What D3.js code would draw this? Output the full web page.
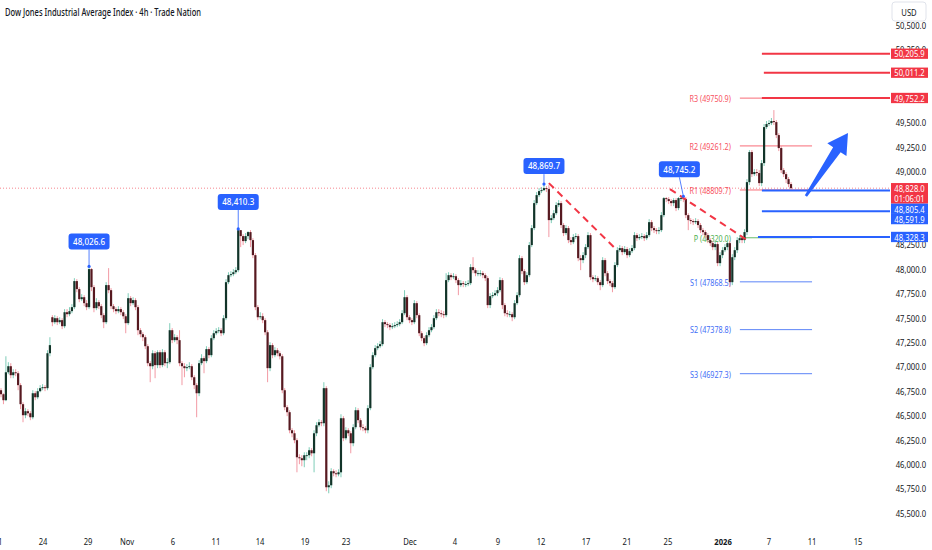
<!DOCTYPE html>
<html><head><meta charset="utf-8">
<script src="https://cdn.jsdelivr.net/npm/d3@7"></script>
<style>html,body{margin:0;padding:0;background:#fff;overflow:hidden}</style>
</head><body><svg id="c" width="932" height="550"></svg>
<script>
const title = "Dow Jones Industrial Average Index · 4h · Trade Nation";
const currency = "USD";
// 4h candles [open, high, low, close]
const candles = [
[46758,46779,46686,46717],[46717,46727,46615,46656],[46656,47106,46646,46942],[46942,47045,46922,47004],[47004,47035,46881,46912],
[46912,46973,46881,46942],[46942,46973,46901,46932],[46932,46953,46758,46810],[46810,46830,46564,46615],[46615,46635,46430,46502],
[46502,46574,46471,46543],[46543,46564,46492,46522],[46522,46543,46451,46481],[46481,46758,46461,46727],[46727,46748,46656,46686],
[46686,46779,46666,46748],[46748,46810,46737,46779],[46779,46820,46758,46789],[46789,46810,46748,46779],[46779,47168,46758,47137],
[47137,47301,47106,47220],[47506,47527,47414,47455],[47455,47527,47435,47496],[47496,47516,47425,47455],[47455,47506,47435,47476],
[47476,47496,47384,47414],[47414,47589,47394,47557],[47557,47589,47506,47537],[47537,47609,47516,47568],[47568,47640,47547,47609],
[47609,47906,47589,47876],[47876,47896,47762,47794],[47794,47814,47660,47691],[47691,47742,47671,47711],[47711,47732,47619,47650],
[47650,47681,47578,47609],[47609,48026.6,47589,47999],[47999,48009,47773,47814],[47814,47835,47557,47599],[47599,47701,47578,47660],
[47660,47681,47589,47619],[47619,47640,47496,47527],[47527,47547,47394,47455],[47455,47865,47435,47835],[47835,48009,47752,47783],
[47783,47804,47589,47619],[47619,47640,47557,47589],[47589,47609,47537,47568],[47568,47619,47547,47589],[47589,47609,47527,47557],
[47557,47578,47486,47516],[47516,47537,47342,47445],[47445,47752,47425,47701],[47701,47722,47619,47650],[47650,47711,47630,47681],
[47681,47701,47578,47609],[47609,47630,47322,47373],[47373,47394,47301,47332],[47332,47352,47261,47301],[47301,47322,47179,47209],
[47209,47230,47004,47035],[47035,47056,46840,47004],[47004,47168,46973,47137],[47137,47158,46881,47015],[47015,47168,46984,47147],
[47147,47168,46984,47015],[47015,47179,46994,47147],[47147,47168,47004,47035],[47035,47086,46984,47045],[47045,47445,47025,47373],
[47373,47394,47240,47271],[47271,47332,47250,47301],[47301,47322,47230,47271],[47271,47373,47004,47035],[47035,47056,46810,47004],
[47004,47035,46891,46984],[46984,47025,46953,46994],[46994,47045,46973,47004],[47004,47025,46861,46891],[46891,46912,46769,46810],
[46810,46830,46481,46727],[46727,47066,46697,47035],[47035,47127,47015,47086],[47086,47106,46932,47056],[47056,47209,47035,47179],
[47179,47199,47086,47117],[47117,47322,47096,47291],[47291,47373,47271,47342],[47342,47394,47322,47363],[47363,47404,47342,47373],
[47373,47394,47312,47342],[47342,47527,47322,47496],[47496,47896,47476,47865],[47865,47967,47845,47937],[47937,47978,47916,47947],
[47947,47999,47926,47967],[47967,48019,47947,47988],[47988,48410.3,47967,48398],[48398,48398,48224,48337],[48337,48357,48245,48286],
[48286,48368,48265,48337],[48337,48388,48306,48378],[48378,48398,48224,48296],[48296,48316,48111,48142],[48142,48163,47578,47609],
[47609,47630,47476,47506],[47506,47557,47486,47516],[47516,47547,47445,47476],[47476,47496,47322,47352],[47352,47373,46840,46984],
[46984,47250,46953,47220],[47220,47240,47086,47117],[47117,47199,47096,47168],[47168,47189,47106,47137],[47137,47158,47074,47106],
[47106,47127,46727,46758],[46758,46779,46553,46584],[46584,46605,46492,46533],[46533,46553,46317,46348],[46348,46369,46276,46317],
[46317,46348,46215,46246],[46246,46266,45917,46071],[46071,46102,46000,46061],[46061,46092,45979,46041],[46041,46122,45969,46092],
[46092,46122,46041,46092],[46092,46174,46061,46143],[46143,46164,46081,46112],[46112,46348,45917,46317],[46317,46430,46287,46399],
[46399,46461,46379,46430],[46430,46451,46389,46420],[46420,46840,46389,46779],[46779,46799,45723,45764],[45764,45825,45702,45784],
[45784,45959,45754,45928],[45928,45948,45876,45907],[45907,45938,45866,45897],[45897,45948,45876,45917],[45917,46512,45866,46471],
[46471,46492,46236,46266],[46266,46379,46246,46348],[46348,46369,46287,46317],[46317,46338,46112,46215],[46215,46410,46184,46379],
[46379,46584,46358,46553],[46553,46574,46420,46451],[46451,46471,46348,46379],[46379,46410,46338,46369],[46369,46389,46317,46348],
[46348,46605,46317,46574],[46574,47025,46553,46994],[46994,47147,46973,47117],[47117,47220,47096,47189],[47189,47240,47168,47209],
[47209,47261,47189,47230],[47230,47486,47209,47455],[47455,47476,47404,47435],[47435,47455,47394,47425],[47425,47445,47373,47404],
[47404,47445,47384,47414],[47414,47455,47394,47425],[47425,47465,47404,47435],[47435,47486,47414,47455],[47455,47578,47435,47547],
[47547,47783,47527,47711],[47711,47732,47476,47506],[47506,47527,47445,47476],[47476,47496,47425,47455],[47455,47681,47435,47650],
[47650,47671,47496,47527],[47527,47547,47312,47342],[47342,47363,47261,47291],[47291,47312,47209,47240],[47240,47352,47220,47322],
[47322,47404,47301,47373],[47373,47435,47352,47404],[47404,47527,47384,47496],[47496,47589,47476,47557],[47557,47589,47516,47547],
[47547,47578,47506,47537],[47537,47568,47496,47527],[47527,47957,47506,47886],[47886,47967,47865,47937],[47937,47957,47886,47916],
[47916,47957,47896,47926],[47926,47947,47855,47886],[47886,47906,47732,47835],[47835,47886,47814,47855],[47855,47876,47814,47845],
[47845,47876,47814,47845],[47845,47886,47824,47855],[47855,48050,47835,48019],[48019,48121,47957,47988],[47988,48009,47926,47957],
[47957,47988,47926,47957],[47957,47988,47926,47957],[47957,47978,47906,47937],[47937,47957,47876,47906],[47906,47926,47599,47630],
[47630,47752,47599,47722],[47722,47762,47701,47732],[47732,47783,47722,47752],[47752,47814,47722,47783],[47783,47916,47762,47886],
[47886,47906,47589,47630],[47630,47650,47516,47547],[47547,47578,47506,47537],[47537,47568,47506,47537],[47537,47557,47465,47506],
[47506,47681,47486,47650],[47650,47762,47630,47732],[47732,48142,47711,48111],[48111,48132,47947,47978],[47978,47999,47835,47865],
[47865,47967,47845,47937],[47937,48276,47916,48245],[48245,48450,48224,48419],[48419,48706,48398,48675],[48675,48788,48655,48757],
[48757,48829,48737,48798],[48798,48839,48778,48808],[48808,48869.7,48798,48829],[48829,48849,48788,48819],[48819,48860,48327,48501],
[48501,48552,48470,48521],[48521,48603,48501,48572],[48572,48685,48552,48655],[48655,48706,48634,48675],[48675,48696,48419,48450],
[48450,48470,48337,48368],[48368,48450,48347,48419],[48419,48440,48265,48296],[48296,48327,48245,48275],[48275,48357,48255,48327],
[48327,48368,48306,48337],[48337,48357,48080,48111],[48111,48142,47988,48091],[48091,48173,48060,48142],[48142,48255,48111,48224],
[48224,48378,48204,48347],[48347,48368,47886,47916],[47916,47937,47865,47896],[47896,47937,47876,47906],[47906,47926,47835,47865],
[47865,47886,47783,47835],[47835,48121,47814,48091],[48091,48111,47926,47957],[47957,47978,47845,47876],[47876,47896,47824,47855],
[47855,47876,47762,47814],[47814,48070,47794,48040],[48040,48224,48019,48193],[48193,48245,48173,48214],[48214,48235,48142,48173],
[48173,48235,48152,48204],[48204,48224,48111,48142],[48142,48214,48121,48183],[48183,48245,48163,48214],[48214,48378,48193,48347],
[48347,48368,48286,48316],[48316,48357,48296,48327],[48327,48368,48306,48337],[48337,48357,48286,48316],[48316,48378,48296,48347],
[48347,48511,48327,48480],[48480,48501,48388,48419],[48419,48440,48368,48398],[48398,48419,48357,48388],[48388,48429,48357,48398],
[48398,48583,48378,48552],[48552,48737,48531,48726],[48726,48737,48685,48716],[48716,48737,48665,48696],[48696,48716,48644,48675],
[48675,48726,48644,48706],[48706,48726,48593,48624],[48624,48737,48603,48726],[48726,48737,48696,48726],[48726,48745.2,48685,48716],
[48716,48737,48521,48552],[48552,48572,48398,48501],[48501,48521,48460,48491],[48491,48511,48450,48480],[48480,48521,48460,48491],
[48491,48511,48419,48450],[48450,48470,48368,48398],[48398,48419,48347,48378],[48378,48398,48316,48347],[48347,48368,48265,48296],
[48296,48316,48235,48265],[48265,48286,48193,48224],[48224,48286,48193,48255],[48255,48275,48029,48060],[48060,48173,48029,48142],
[48142,48224,48111,48193],[48193,48255,48173,48224],[48224,48296,48193,48265],[48265,48286,47814,47865],[47865,48152,47835,48121],
[48121,48224,48091,48193],[48193,48327,48163,48296],[48296,48347,48265,48316],[48316,48337,48265,48296],[48296,48408,48265,48378],
[48378,48921,48347,48890],[48890,49218,48860,49198],[49198,49218,48942,48972],[48972,49024,48952,48993],[48993,49024,48952,48983],
[48983,49013,48849,48880],[48880,49116,48849,49085],[49085,49485,49055,49454],[49454,49516,49434,49485],[49485,49526,49464,49495],
[49495,49547,49475,49516],[49516,49628,49475,49505],[49505,49526,49341,49372],[49372,49392,49208,49239],[49239,49260,48983,49013],
[49013,49034,48942,48972],[48972,48993,48880,48921],[48921,48942,48839,48870],[48870,48890,48808,48828]
];
const lastPrice = 48828.0;
const countdown = "01:06:01";
const yTickValues = [45500,45750,46000,46250,46500,46750,47000,47250,47500,47750,48000,48250,48500,48750,49000,49250,49500,49750,50000,50250,50500];
const xTickLabels = ["21","24","29","Nov","6","11","14","19","23","Dec","4","9","12","17","21","25","2026","7","11","15"];
const xTickBars  = [-1.2,17.2,35.6,51.5,70.3,87.9,105.9,124.3,141.1,167.2,185.6,203.2,220.8,239.2,255.9,272.7,295.2,314.0,331.6,350.4];
const xTickBold  = ["2026"];
const pivotNames  = ["R3","R2","R1","P","S1","S2","S3"];
const pivotValues = [49750.9,49261.2,48809.7,48320.0,47868.5,47378.8,46927.3];
const pivotSpan = [302.1, 331.6];
const levelValues = [50205.9,50011.2,49752.2,48805.4,48591.9,48328.3];
const levelKinds  = ["res","res","res","sup","sup","sup"];
const levelStartBars = [311.1,311.9,311.1,311.1,311.1,309.5];
const calloutBars   = [36,97,222,279];
const calloutValues = [48026.6,48410.3,48869.7,48745.2];
const trendLines = [[224.0,48880,251.4,48204],[273.5,48819,305.0,48297]];
const arrowFrom = [329.1,48747], arrowTo = [346.3,49393];

// ---------- drawing ----------
const FONT = "'Noto Sans', Roboto, 'DejaVu Sans', sans-serif";
const RED = "#f23645", BLUE = "#2962ff";
const plotRight = 890;
const svg = d3.select("#c");
const x = d3.scaleLinear().domain([0, candles.length - 1]).range([1, 791]);
const y = d3.scaleLinear().domain([45500, 50500]).range([513, 25]);
const fmt = d3.format(",.1f");

function txt(g, px, py, s, o = {}) {
  return g.append("text")
    .attr("transform", `translate(${px},${py}) scale(${o.sx || 0.85},1)`)
    .attr("text-anchor", o.anchor || "start")
    .attr("dominant-baseline", "central")
    .attr("font-family", FONT)
    .attr("font-size", o.size || 9)
    .attr("font-weight", o.weight || 400)
    .attr("fill", o.fill || "#131722")
    .text(s);
}

svg.append("rect").attr("width", 932).attr("height", 550).attr("fill", "#fff");
svg.append("defs").append("clipPath").attr("id", "plot")
  .append("rect").attr("x", 0).attr("y", 0).attr("width", plotRight).attr("height", 525);
const plot = svg.append("g").attr("clip-path", "url(#plot)");

// pivot lines & labels (behind candles)
const pivCol = n => n[0] === "R" ? "#f7525f" : (n[0] === "S" ? "#3f6ef6" : "#4caf50");
pivotNames.forEach((n, i) => {
  const py = y(pivotValues[i]);
  plot.append("line").attr("x1", x(pivotSpan[0])).attr("x2", x(pivotSpan[1]))
    .attr("y1", py).attr("y2", py).attr("stroke", pivCol(n)).attr("stroke-opacity", 0.85).attr("stroke-width", 1);
  txt(plot, x(pivotSpan[0]) - 9, py, `${n} (${pivotValues[i].toFixed(1)})`,
    { anchor: "end", size: 9, sx: 0.8, fill: pivCol(n) });
});

// current price dotted line
plot.append("line").attr("x1", 0).attr("x2", plotRight).attr("y1", y(lastPrice)).attr("y2", y(lastPrice))
  .attr("stroke", RED).attr("stroke-opacity", 0.6).attr("stroke-width", 1).attr("stroke-dasharray", "1,2");

// candles
const UP_BODY = "#123429", UP_WICK = "#7fcdb8", DN_BODY = "#561920", DN_WICK = "#f29aa4";
const cg = plot.append("g");
cg.selectAll("line.w").data(candles).join("line").attr("class", "w")
  .attr("x1", (d, i) => x(i)).attr("x2", (d, i) => x(i))
  .attr("y1", d => y(d[1])).attr("y2", d => y(d[2]))
  .attr("stroke", d => d[3] >= d[0] ? UP_WICK : DN_WICK).attr("stroke-width", 1);
cg.selectAll("rect.b").data(candles).join("rect").attr("class", "b")
  .attr("x", (d, i) => x(i) - 1.1)
  .attr("width", 2.2)
  .attr("y", d => y(Math.max(d[0], d[3])))
  .attr("height", d => Math.max(0.9, Math.abs(y(d[0]) - y(d[3]))))
  .attr("fill", d => d[3] >= d[0] ? UP_BODY : DN_BODY);

// trend lines
trendLines.forEach(t => {
  plot.append("line").attr("x1", x(t[0])).attr("y1", y(t[1])).attr("x2", x(t[2])).attr("y2", y(t[3]))
    .attr("stroke", RED).attr("stroke-width", 2).attr("stroke-dasharray", "7,5");
});

// thick horizontal levels
levelValues.forEach((v, i) => {
  plot.append("line").attr("x1", x(levelStartBars[i])).attr("x2", plotRight)
    .attr("y1", y(v)).attr("y2", y(v))
    .attr("stroke", levelKinds[i] === "res" ? RED : BLUE).attr("stroke-width", 2);
});

// callouts
const calloutOffsets = [[0, -17], [0, -19], [0, -10], [-4, -19]];
calloutBars.forEach((b, i) => {
  const ax = x(b), ay = y(calloutValues[i]);
  const cx = ax + calloutOffsets[i][0], bottom = ay + calloutOffsets[i][1];
  plot.append("line").attr("x1", ax).attr("y1", ay).attr("x2", cx).attr("y2", bottom)
    .attr("stroke", BLUE).attr("stroke-opacity", 0.8).attr("stroke-width", 1);
  plot.append("circle").attr("cx", ax).attr("cy", ay).attr("r", 1.6).attr("fill", BLUE);
  plot.append("rect").attr("x", cx - 20.5).attr("y", bottom - 16).attr("width", 41).attr("height", 16)
    .attr("rx", 3).attr("fill", BLUE);
  txt(plot, cx, bottom - 8, fmt(calloutValues[i]), { anchor: "middle", size: 9.5, sx: 0.85, fill: "#fff", weight: 500 });
});

// arrow
{
  const p0 = [x(arrowFrom[0]), y(arrowFrom[1])], p1 = [x(arrowTo[0]), y(arrowTo[1])];
  const dx = p1[0] - p0[0], dy = p1[1] - p0[1], L = Math.hypot(dx, dy);
  const u = [dx / L, dy / L], n = [-u[1], u[0]];
  const hb = [p1[0] - u[0] * 20, p1[1] - u[1] * 20];
  const P = (b, k) => [b[0] + n[0] * k, b[1] + n[1] * k];
  const pts = [P(p0, 1.3), P(hb, 4.5), P(hb, 11.5), p1, P(hb, -11.5), P(hb, -4.5), P(p0, -1.3)];
  plot.append("polygon").attr("points", pts.map(p => p.join(",")).join(" ")).attr("fill", BLUE);
}

// title
svg.append("text").attr("x", 5).attr("y", 12).attr("dominant-baseline", "central")
  .attr("font-family", FONT).attr("font-size", 10).attr("font-weight", 500).attr("fill", "#131722")
  .attr("textLength", 196).attr("lengthAdjust", "spacingAndGlyphs").text(title);

// price-axis tags, stacked to avoid overlap
const tags = [];
levelValues.forEach((v, i) => tags.push({ v, color: levelKinds[i] === "res" ? RED : BLUE, lines: [fmt(v)] }));
tags.push({ v: lastPrice, color: RED, lines: [fmt(lastPrice), countdown] });
tags.sort((a, b) => b.v - a.v);
let prevBottom = -1e9;
const LH = 10.3;
tags.forEach(t => {
  const h = LH * t.lines.length;
  t.top = Math.max(y(t.v) - LH / 2, prevBottom);
  t.h = h;
  prevBottom = t.top + h;
});

// y axis labels (those fully hidden behind a tag are skipped)
const axisG = svg.append("g");
yTickValues.forEach(v => {
  const ty = y(v);
  const hidden = tags.some(t => ty > t.top + 2 && ty < t.top + t.h - 2);
  if (!hidden) txt(axisG, 926, ty, fmt(v), { anchor: "end", size: 9, sx: 0.85 });
});

// x axis labels
xTickLabels.forEach((s, i) => txt(axisG, x(xTickBars[i]), 541, s,
  { anchor: "middle", size: 9, sx: 0.85, weight: xTickBold.includes(s) ? 700 : 400 }));

// currency box
axisG.append("rect").attr("x", 892).attr("y", 2).attr("width", 34).attr("height", 19).attr("rx", 3)
  .attr("fill", "#fff").attr("stroke", "#e0e3eb");
txt(axisG, 909, 12, currency, { anchor: "middle", size: 9, sx: 0.85 });

// draw tags
tags.forEach(t => {
  axisG.append("rect").attr("x", 891).attr("y", t.top).attr("width", 37).attr("height", t.h).attr("fill", t.color);
  t.lines.forEach((s, k) => txt(axisG, 909.5, t.top + LH / 2 + k * LH, s, { anchor: "middle", size: 9, sx: 0.85, fill: "#fff" }));
});
</script></body></html>
